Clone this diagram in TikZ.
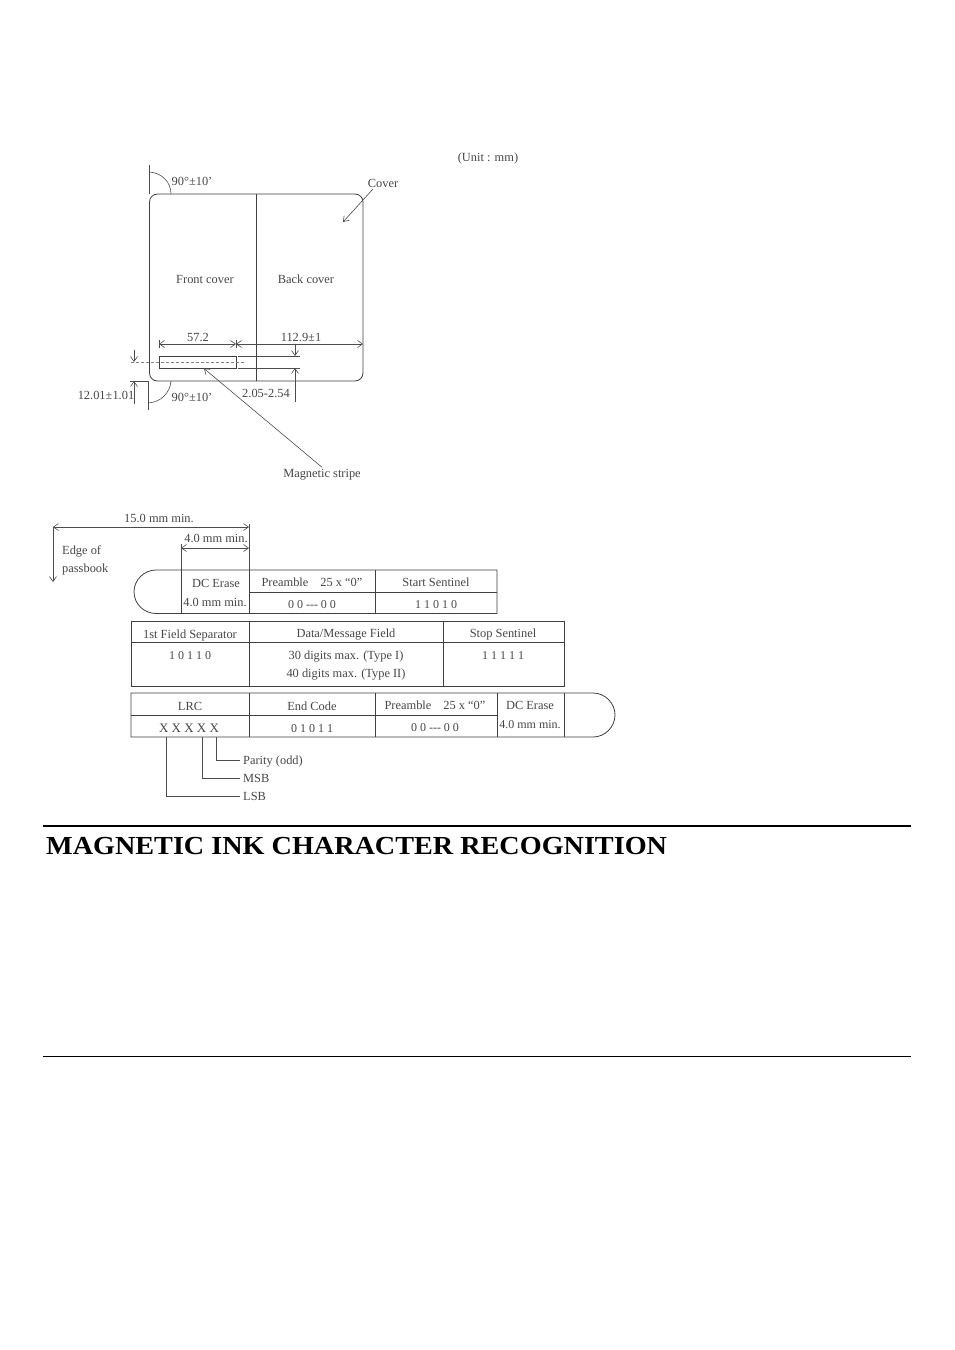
\documentclass[tikz,border=0pt]{standalone}
\usepackage{fontspec}
\setmainfont{Liberation Serif}
\newfontfamily\headfont[FakeStretch=1.084]{Liberation Serif}
\usetikzlibrary{arrows.meta}
\begin{document}
\tikzset{
	>={Straight Barb[length=5pt,width=7pt]},
	lbl/.style={text=black!72,font=\fontsize{12.4}{14}\selectfont,inner sep=0pt,text height=9.5pt,text depth=1.5pt},
	bits/.style={lbl,font=\fontsize{12}{14}\selectfont},
	outline/.style={draw=black!75,line width=0.8pt},
	dimline/.style={draw=black!70,line width=0.6pt},
}
\begin{tikzpicture}[x=1pt,y=-1pt]
	\useasboundingbox[fill=white] (0,0) rectangle (954,1350);

	% Passbook outline
	\draw[outline,rounded corners=8pt] (149.5,194) rectangle (363,381);
	\draw[outline] (256,194) -- (256,381);
	\node[lbl] (unit) at (488,157) {(Unit : mm)};
	\node[lbl] (front) at (205,279) {Front cover};
	\node[lbl] (back) at (306,279) {Back cover};
	\node[lbl] (cover) at (383,183) {Cover};
	\coordinate (coverend) at (373,189);
	\coordinate (covertip) at (343,222);
	\draw[->,dimline] (coverend) -- (covertip);

	% Corner angles
	\coordinate (tl) at (149.5,194);
	\coordinate (tltick) at (149.5,165);
	\coordinate (bl) at (148.5,381);
	\coordinate (bltick) at (148.5,410);
	\draw[dimline] (tl) -- (tltick);
	\draw[dimline] (bl) -- (bltick);
	\draw[dimline] (149.5,172) .. controls (162,173) and (171,182) .. (171,194);
	\draw[dimline] (148.5,403) .. controls (161,402) and (170,393) .. (171,381);
	\node[lbl] (angtop) at (192,181) {90°±10'};
	\node[lbl] (angbot) at (192,397) {90°±10'};

	% Magnetic stripe
	\draw[outline] (159,356) rectangle (236,368);
	\coordinate (midl) at (131,362);
	\coordinate (midr) at (245,362);
	\draw[dimline,dash pattern=on 3pt off 2pt,draw=black!50] (midl) -- (midr);
	\node[lbl] (stripe) at (322,473) {Magnetic stripe};
	\coordinate (stripetip) at (204,368.5);
	\draw[->,dimline] (stripe.north) -- (stripetip);

	% Dimensions on the stripe
	\coordinate (wa) at (159,344);
	\coordinate (wb) at (236,344);
	\coordinate (wc) at (363,344);
	\draw[<->,dimline] (wa) -- (wb);
	\draw[<->,dimline] (wb) -- (wc);
	\draw[dimline] (159,340) -- (159,348);
	\draw[dimline] (236,340) -- (236,348);
	\node[lbl] (dima) at (198,337) {57.2};
	\node[lbl] (dimb) at (301,337) {112.9±1};
	\draw[dimline] (238,356) -- (300,356);
	\draw[dimline] (238,368) -- (300,368);
	\coordinate (ha) at (295,345);
	\coordinate (hb) at (295,356);
	\coordinate (hc) at (295,368);
	\coordinate (hd) at (295,402);
	\draw[->,dimline] (ha) -- (hb);
	\draw[->,dimline] (hd) -- (hc);
	\node[lbl] (dimc) at (266,393) {2.05-2.54};
	\coordinate (va) at (134,350);
	\coordinate (vb) at (134,362);
	\coordinate (vc) at (134,381);
	\coordinate (vd) at (134,404);
	\draw[->,dimline] (va) -- (vb);
	\draw[->,dimline] (vd) -- (vc);
	\draw[dimline] (130,381) -- (149,381);
	\node[lbl] (dimd) at (106,395) {12.01±1.01};

	% Distances to the edge
	\coordinate (edge) at (53,527);
	\coordinate (edgeend) at (53,582);
	\coordinate (erase) at (249,527);
	\coordinate (eraseb) at (249,548);
	\coordinate (erasea) at (181,548);
	\draw[<->,dimline] (edge) -- (erase);
	\draw[<->,dimline] (erasea) -- (eraseb);
	\draw[->,dimline] (edge) -- (edgeend);
	\draw[dimline] (249,524) -- (249,570);
	\draw[dimline] (181,544) -- (181,570);
	\node[lbl] (fifteen) at (159,518) {15.0 mm min.};
	\node[lbl] (four) at (216,538) {4.0 mm min.};
	\node[lbl,anchor=west] (edgea) at (62,550) {Edge of};
	\node[lbl,anchor=west] (edgeb) at (62,568) {passbook};

	% First row
	\draw[outline] (156,570) -- (497,570) -- (497,613.5) -- (156,613.5) .. controls (144,613.5) and (134,604) .. (134,591.75) .. controls (134,580) and (144,570) .. (156,570);
	\draw[outline] (181,570) -- (181,613.5);
	\draw[outline] (249,570) -- (249,613.5);
	\draw[outline] (375,570) -- (375,613.5);
	\draw[outline] (249,592) -- (497,592);
	\node[lbl] (dca) at (216,583) {DC Erase};
	\node[lbl] (dcb) at (215,602) {4.0 mm min.};
	\node[lbl] (prea) at (312,582) {Preamble\hspace{12pt}25 x “0”};
	\node[bits] (preb) at (312,604) {0 0 -{}-{}- 0 0};
	\node[lbl] (starta) at (436,582) {Start Sentinel};
	\node[bits] (startb) at (436,604) {1 1 0 1 0};

	% Second row
	\draw[outline] (131,621) rectangle (564,686);
	\draw[outline] (131,642) -- (564,642);
	\draw[outline] (249,621) -- (249,686);
	\draw[outline] (443,621) -- (443,686);
	\node[lbl] (sepa) at (190,634) {1st Field Separator};
	\node[bits] (sepb) at (190,655) {1 0 1 1 0};
	\node[lbl] (dataa) at (346,633) {Data/Message Field};
	\node[lbl] (datab) at (346,655) {30 digits max. (Type I)};
	\node[lbl] (datac) at (346,673) {40 digits max. (Type II)};
	\node[lbl] (stopa) at (503,633) {Stop Sentinel};
	\node[bits] (stopb) at (503,655) {1 1 1 1 1};

	% Third row
	\draw[outline] (593,693) -- (131,693) -- (131,737) -- (593,737) .. controls (605,737) and (615,727) .. (615,715) .. controls (615,703) and (605,693) .. (593,693);
	\draw[outline] (564,693) -- (564,737);
	\draw[outline] (497,693) -- (497,737);
	\draw[outline] (375,693) -- (375,737);
	\draw[outline] (249,693) -- (249,737);
	\draw[outline] (131,715) -- (497,715);
	\node[lbl] (lrca) at (190,706) {LRC};
	\node[bits,font=\fontsize{13}{15}\selectfont] (lrcb) at (189,728) {X X X X X};
	\node[lbl] (enda) at (312,706) {End Code};
	\node[bits] (endb) at (312,728) {0 1 0 1 1};
	\node[lbl] (prec) at (435,705) {Preamble\hspace{12pt}25 x “0”};
	\node[bits] (pred) at (435,727) {0 0 -{}-{}- 0 0};
	\node[lbl] (dcc) at (530,705) {DC Erase};
	\node[bits] (dcd) at (530,724) {4.0 mm min.};

	% LRC bits
	\node[lbl,anchor=west] (parity) at (243,760) {Parity (odd)};
	\node[lbl,anchor=west] (msb) at (243,778) {MSB};
	\node[lbl,anchor=west] (lsb) at (243,796) {LSB};
	\coordinate (bitp) at (216,737);
	\coordinate (bitm) at (202,737);
	\coordinate (bitl) at (166,737);
	\draw[dimline] (bitp) |- ([xshift=-3pt]parity.west);
	\draw[dimline] (bitm) |- ([xshift=-3pt]msb.west);
	\draw[dimline] (bitl) |- ([xshift=-3pt]lsb.west);

	% Heading
	\coordinate (rulea) at (43,826);
	\coordinate (ruleb) at (911,826);
	\coordinate (rulec) at (43,1056);
	\coordinate (ruled) at (911,1056);
	\draw[line width=1.8pt] (rulea) -- (ruleb);
	\draw[line width=0.7pt] (rulec) -- (ruled);
	\node[anchor=base west,inner sep=0pt,font=\headfont\fontsize{26}{30}\selectfont\bfseries] (title) at (46,854) {MAGNETIC INK CHARACTER RECOGNITION};
\end{tikzpicture}
\end{document}
